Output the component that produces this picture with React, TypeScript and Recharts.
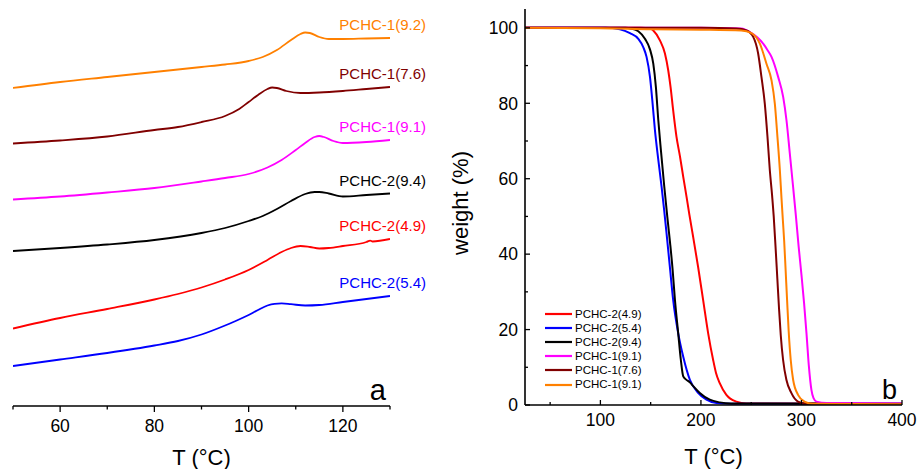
import React from 'react';
import { LineChart, Line, XAxis, YAxis, Legend } from 'recharts';

const FONT = '"Liberation Sans", Arial, Helvetica, sans-serif';

// ---------- Panel a: DSC traces (stacked, arbitrary offset units, axis reversed) ----------
const dscTicks = [50, 60, 70, 80, 90, 100, 110, 120, 130];
const dscMajor = [60, 80, 100, 120];

const dscPCHC1_92: [number, number][] = [
  [50, 88], [60, 82], [70, 77], [80, 72], [90, 67], [95, 64.5], [100, 61], [103, 57],
  [106, 50], [109, 40], [111, 34], [112, 32.5], [113, 33], [115, 37], [117, 39],
  [120, 39], [125, 38.5], [130, 38],
];
const dscPCHC1_76: [number, number][] = [
  [50, 143.5], [60, 140.5], [70, 136.5], [80, 130], [85, 127], [90, 122], [95, 116],
  [98, 109], [100, 102], [102, 95], [104, 89], [105, 87.5], [106, 88], [108, 91],
  [111, 93], [115, 92.5], [120, 91], [125, 89], [130, 87],
];
const dscPCHC1_91: [number, number][] = [
  [50, 199.5], [60, 196.5], [70, 192.5], [80, 188], [90, 181.5], [95, 178], [100, 174],
  [104, 167.5], [107, 160], [110, 150], [112, 143], [114, 137], [115, 136], [116, 137],
  [118, 141], [120, 143], [125, 142], [130, 140],
];
const dscPCHC2_94: [number, number][] = [
  [50, 251], [60, 248], [70, 244.5], [80, 240], [90, 233], [95, 228], [100, 221],
  [103, 216], [106, 209], [109, 201], [112, 194], [114, 192], [115, 192], [117, 193.5],
  [120, 196.5], [125, 195], [130, 193.5],
];
const dscPCHC2_49: [number, number][] = [
  [50, 328.5], [60, 318], [70, 309], [80, 299.5], [85, 294], [90, 287.5], [95, 279.5],
  [100, 270], [104, 260], [107, 252], [109, 248], [111, 246], [113, 247], [115, 248.5],
  [117, 248], [120, 246], [125, 242], [125.8, 240.6], [126.3, 241.5], [130, 239],
];
const dscPCHC2_54: [number, number][] = [
  [50, 366], [60, 359.5], [70, 353], [80, 345.5], [85, 341], [90, 334.5], [95, 325.5],
  [97, 321.5], [100, 315], [102, 310], [104, 305.5], [105.5, 303.8], [107, 303.4],
  [109, 304.2], [112, 305.5], [115, 305], [120, 302], [125, 299], [130, 296],
];

const dscSeries = [
  { name: 'PCHC-1(9.2)', color: '#FF8000', pts: dscPCHC1_92 },
  { name: 'PCHC-1(7.6)', color: '#800000', pts: dscPCHC1_76 },
  { name: 'PCHC-1(9.1)', color: '#FF00FF', pts: dscPCHC1_91 },
  { name: 'PCHC-2(9.4)', color: '#000000', pts: dscPCHC2_94 },
  { name: 'PCHC-2(4.9)', color: '#FF0000', pts: dscPCHC2_49 },
  { name: 'PCHC-2(5.4)', color: '#0000FF', pts: dscPCHC2_54 },
];

// ---------- Panel b: TGA weight (%) ----------
const tgaXTicks = [50, 100, 150, 200, 250, 300, 350, 400];
const tgaXMajor = [100, 200, 300, 400];
const tgaYTicks = [0, 10, 20, 30, 40, 50, 60, 70, 80, 90, 100];
const tgaYMajor = [0, 20, 40, 60, 80, 100];

const tgaPCHC2_49: [number, number][] = [
  [25, 100], [140, 100], [149.3, 99.9], [152.6, 99.3], [159.2, 96.7], [164.2, 93.2],
  [167.5, 88.7], [169.8, 84.3], [172.4, 78.1], [175.7, 71.1], [179.1, 66], [182.4, 60.5],
  [185.7, 55.2], [188.5, 50.5], [192.3, 44.5], [197.2, 36.6], [202.2, 27.8], [207.2, 19],
  [212.1, 12], [215, 8.5], [218.7, 5.8], [225.3, 2.7], [235.3, 0.9], [245, 0.4], [400, 0.3],
];
const tgaPCHC2_54: [number, number][] = [
  [25, 100], [105, 100], [119.4, 99.6], [129.4, 98.6], [137.7, 97.1], [142.6, 94.9],
  [145.9, 92.3], [149.3, 87], [151.9, 80], [154.2, 73], [157.6, 65], [160.9, 57.8],
  [163.5, 51.5], [165.8, 45.5], [169.1, 36.6], [172.4, 27.8], [177.4, 19], [182.4, 12.8],
  [189, 6.7], [197.2, 3.2], [205.5, 1.4], [215.5, 0.5], [230, 0.35], [400, 0.3],
];
const tgaPCHC2_94: [number, number][] = [
  [25, 100], [125, 100], [130.5, 99.8], [137.7, 99.1], [144.3, 97.1], [149.3, 94.3],
  [152.6, 90.5], [155.2, 84.3], [157.6, 75.5], [160.2, 67.5], [163.5, 58], [166.5, 50],
  [169.3, 43], [171.8, 36], [174.1, 28], [177.4, 19], [180, 12], [182.4, 7.6], [185, 6.8],
  [189, 6], [193, 4.8], [198.9, 3.2], [208.8, 1.4], [218.7, 0.7], [230, 0.4], [400, 0.3],
];
const tgaPCHC1_91m: [number, number][] = [
  [25, 100], [200, 100], [240, 99.8], [250.3, 98.6], [256, 97.5], [261.9, 95.8],
  [266, 94.2], [270.2, 92.3], [276.8, 87], [281.8, 81.7], [285.1, 75.5], [288.4, 66.7],
  [291.7, 57.8], [294.5, 50], [297.2, 42], [300, 34.5], [302.6, 27], [305, 19],
  [307.3, 10.5], [309.9, 4], [312, 1.8], [314.9, 0.9], [325, 0.5], [400, 0.4],
];
const tgaPCHC1_76: [number, number][] = [
  [25, 100], [200, 100], [235, 99.8], [245.4, 99.3], [252, 97.6], [256.9, 93.2],
  [260.2, 87], [263.5, 80], [266.2, 71.1], [268.5, 62.3], [270.8, 55.5], [272.4, 50],
  [274.2, 42], [276, 33.5], [277.7, 25.5], [279.4, 18.5], [281.7, 12], [285, 6.7],
  [289.9, 3.2], [296.5, 0.9], [305, 0.3], [400, 0.2],
];
const tgaPCHC1_91o: [number, number][] = [
  [25, 100], [100, 99.9], [150, 99.6], [200, 99.5], [240, 99.3], [250.3, 98.6],
  [258.6, 95.8], [265.2, 90.5], [270.2, 86.1], [273.5, 79.9], [276.1, 71.1], [278.5, 62.3],
  [280.1, 55], [281.5, 49], [282.8, 43.5], [284.2, 36], [285.7, 27.8], [287.3, 19.5],
  [289.3, 12], [291.7, 6.7], [296.6, 2.7], [303, 0.9], [311, 0.3], [400, 0.2],
];

const tgaSeries = [
  { name: 'PCHC-2(4.9)', color: '#FF0000', pts: tgaPCHC2_49 },
  { name: 'PCHC-2(5.4)', color: '#0000FF', pts: tgaPCHC2_54 },
  { name: 'PCHC-2(9.4)', color: '#000000', pts: tgaPCHC2_94 },
  { name: 'PCHC-1(9.1)', color: '#FF00FF', pts: tgaPCHC1_91m },
  { name: 'PCHC-1(7.6)', color: '#800000', pts: tgaPCHC1_76 },
  { name: 'PCHC-1(9.1)', color: '#FF8000', pts: tgaPCHC1_91o },
];

const toRows = (pts: [number, number][]) => pts.map(([t, v]) => ({ t, v }));

// ---------- custom ticks ----------
const DscTick = (props: any) => {
  const { x, y, payload } = props;
  const major = dscMajor.includes(payload.value);
  return (
    <g>
      <line x1={x} x2={x} y1={y} y2={y + (major ? 6 : 3.5)} stroke="#000" strokeWidth={1.3} />
      {major && (
        <text x={x} y={y + 26} textAnchor="middle" fontSize={17.5} fontFamily={FONT} fill="#000">
          {payload.value}
        </text>
      )}
    </g>
  );
};

const TgaXTick = (props: any) => {
  const { x, y, payload } = props;
  const major = tgaXMajor.includes(payload.value);
  return (
    <g>
      <line x1={x} x2={x} y1={y} y2={y - (major ? 5 : 3)} stroke="#000" strokeWidth={1.3} />
      {major && (
        <text x={x} y={y + 21} textAnchor="middle" fontSize={17.5} fontFamily={FONT} fill="#000">
          {payload.value}
        </text>
      )}
    </g>
  );
};

const TgaYTick = (props: any) => {
  const { x, y, payload } = props;
  const major = tgaYMajor.includes(payload.value);
  return (
    <g>
      <line x1={x} x2={x + (major ? 5 : 3)} y1={y} y2={y} stroke="#000" strokeWidth={1.3} />
      {major && (
        <text x={x - 7} y={y} dy="0.36em" textAnchor="end" fontSize={17.5} fontFamily={FONT} fill="#000">
          {payload.value}
        </text>
      )}
    </g>
  );
};

const endLabel = (name: string, color: string, last: number) => (p: any) => {
  if (p.index !== last) return <g key={`e-${name}-${p.index}`} />;
  return (
    <text
      key={`l-${name}`}
      x={p.x + 36}
      y={p.y - 13}
      dy="0.36em"
      textAnchor="end"
      fontSize={15}
      fontFamily={FONT}
      fill={color}
    >
      {name}
    </text>
  );
};

// Legend keeps the series order of the reference (no sorting)
const TgaLegend = () => (
  <div style={{ fontFamily: FONT, fontSize: 11.5, lineHeight: '14.1px' }}>
    {tgaSeries.map((s, i) => (
      <div key={i} style={{ display: 'flex', alignItems: 'center', height: 14.1 }}>
        <svg width={30} height={6} style={{ display: 'block' }}>
          <line x1={0} x2={27} y1={3} y2={3} stroke={s.color} strokeWidth={2.2} />
        </svg>
        <span style={{ color: '#000', whiteSpace: 'nowrap' }}>{s.name}</span>
      </div>
    ))}
  </div>
);

export default function App() {
  return (
    <div style={{ position: 'relative', width: 919, height: 469, background: '#fff', fontFamily: FONT }}>
      <style>{'body{margin:0;background:#fff}'}</style>

      {/* Panel a */}
      <div style={{ position: 'absolute', left: 0, top: 0 }}>
        <LineChart width={440} height={469} margin={{ top: 10, right: 50, bottom: 13, left: 13 }}>
          <XAxis
            dataKey="t"
            type="number"
            domain={[50, 130]}
            ticks={dscTicks}
            interval={0}
            allowDataOverflow
            height={50}
            tickSize={0}
            tickMargin={0}
            tickLine={false}
            tick={<DscTick />}
            axisLine={{ stroke: '#000', strokeWidth: 1.6 }}
            label={{
              content: (lp: any) => {
                const vb = lp.viewBox || {};
                return (
                  <g>
                    <text x={vb.x + vb.width / 2} y={vb.y + 59} textAnchor="middle" fontSize={22} fontFamily={FONT} fill="#000">
                      T (°C)
                    </text>
                    <text x={vb.x + vb.width - 4} y={vb.y - 6} textAnchor="end" fontSize={29} fontFamily={FONT} fill="#000">
                      a
                    </text>
                  </g>
                );
              },
            }}
          />
          <YAxis hide type="number" domain={[10, 406]} reversed allowDataOverflow />
          {dscSeries.map((s) => (
            <Line
              key={s.name}
              data={toRows(s.pts)}
              dataKey="v"
              type="monotone"
              stroke={s.color}
              strokeWidth={1.8}
              dot={false}
              isAnimationActive={false}
              label={endLabel(s.name, s.color, s.pts.length - 1)}
            />
          ))}
        </LineChart>
      </div>

      {/* Panel b */}
      <div style={{ position: 'absolute', left: 440, top: 0 }}>
        <LineChart width={479} height={469} margin={{ top: 9, right: 17, bottom: 14, left: 25 }}>
          <XAxis
            dataKey="t"
            type="number"
            domain={[25, 400]}
            ticks={tgaXTicks}
            interval={0}
            allowDataOverflow
            height={50}
            tickSize={0}
            tickMargin={0}
            tickLine={false}
            tick={<TgaXTick />}
            axisLine={{ stroke: '#000', strokeWidth: 1.6 }}
            label={{
              content: (lp: any) => {
                const vb = lp.viewBox || {};
                return (
                  <g>
                    <text x={vb.x + vb.width / 2} y={vb.y + 59} textAnchor="middle" fontSize={22} fontFamily={FONT} fill="#000">
                      T (°C)
                    </text>
                    <text x={vb.x + vb.width - 5} y={vb.y - 6} textAnchor="end" fontSize={27} fontFamily={FONT} fill="#000">
                      b
                    </text>
                  </g>
                );
              },
            }}
          />
          <XAxis
            xAxisId="top"
            orientation="top"
            type="number"
            domain={[25, 400]}
            height={0}
            ticks={[]}
            tick={false}
            tickLine={false}
            axisLine={{ stroke: '#000', strokeWidth: 1.6 }}
          />
          <YAxis
            type="number"
            domain={[0, 105]}
            ticks={tgaYTicks}
            interval={0}
            allowDataOverflow
            width={60}
            tickSize={0}
            tickMargin={0}
            tickLine={false}
            tick={<TgaYTick />}
            axisLine={{ stroke: '#000', strokeWidth: 1.6 }}
            label={{
              content: (lp: any) => {
                const vb = lp.viewBox || {};
                const cx = 28;
                const cy = vb.y + vb.height / 2 - 4;
                return (
                  <text
                    x={cx}
                    y={cy}
                    textAnchor="middle"
                    fontSize={22}
                    fontFamily={FONT}
                    fill="#000"
                    transform={`rotate(-90, ${cx}, ${cy})`}
                  >
                    weight (%)
                  </text>
                );
              },
            }}
          />
          <YAxis
            yAxisId="right"
            orientation="right"
            type="number"
            domain={[0, 105]}
            width={0}
            ticks={[]}
            tick={false}
            tickLine={false}
            axisLine={{ stroke: '#000', strokeWidth: 1.6 }}
          />
          <Legend
            layout="vertical"
            align="center"
            verticalAlign="middle"
            content={<TgaLegend />}
            wrapperStyle={{ left: 105, top: 307, width: 'auto', height: 'auto' }}
          />
          {tgaSeries.map((s, i) => (
            <Line
              key={`${s.name}-${i}`}
              name={s.name}
              data={toRows(s.pts)}
              dataKey="v"
              type="monotone"
              stroke={s.color}
              strokeWidth={2}
              dot={false}
              isAnimationActive={false}
            />
          ))}
        </LineChart>
      </div>
    </div>
  );
}
